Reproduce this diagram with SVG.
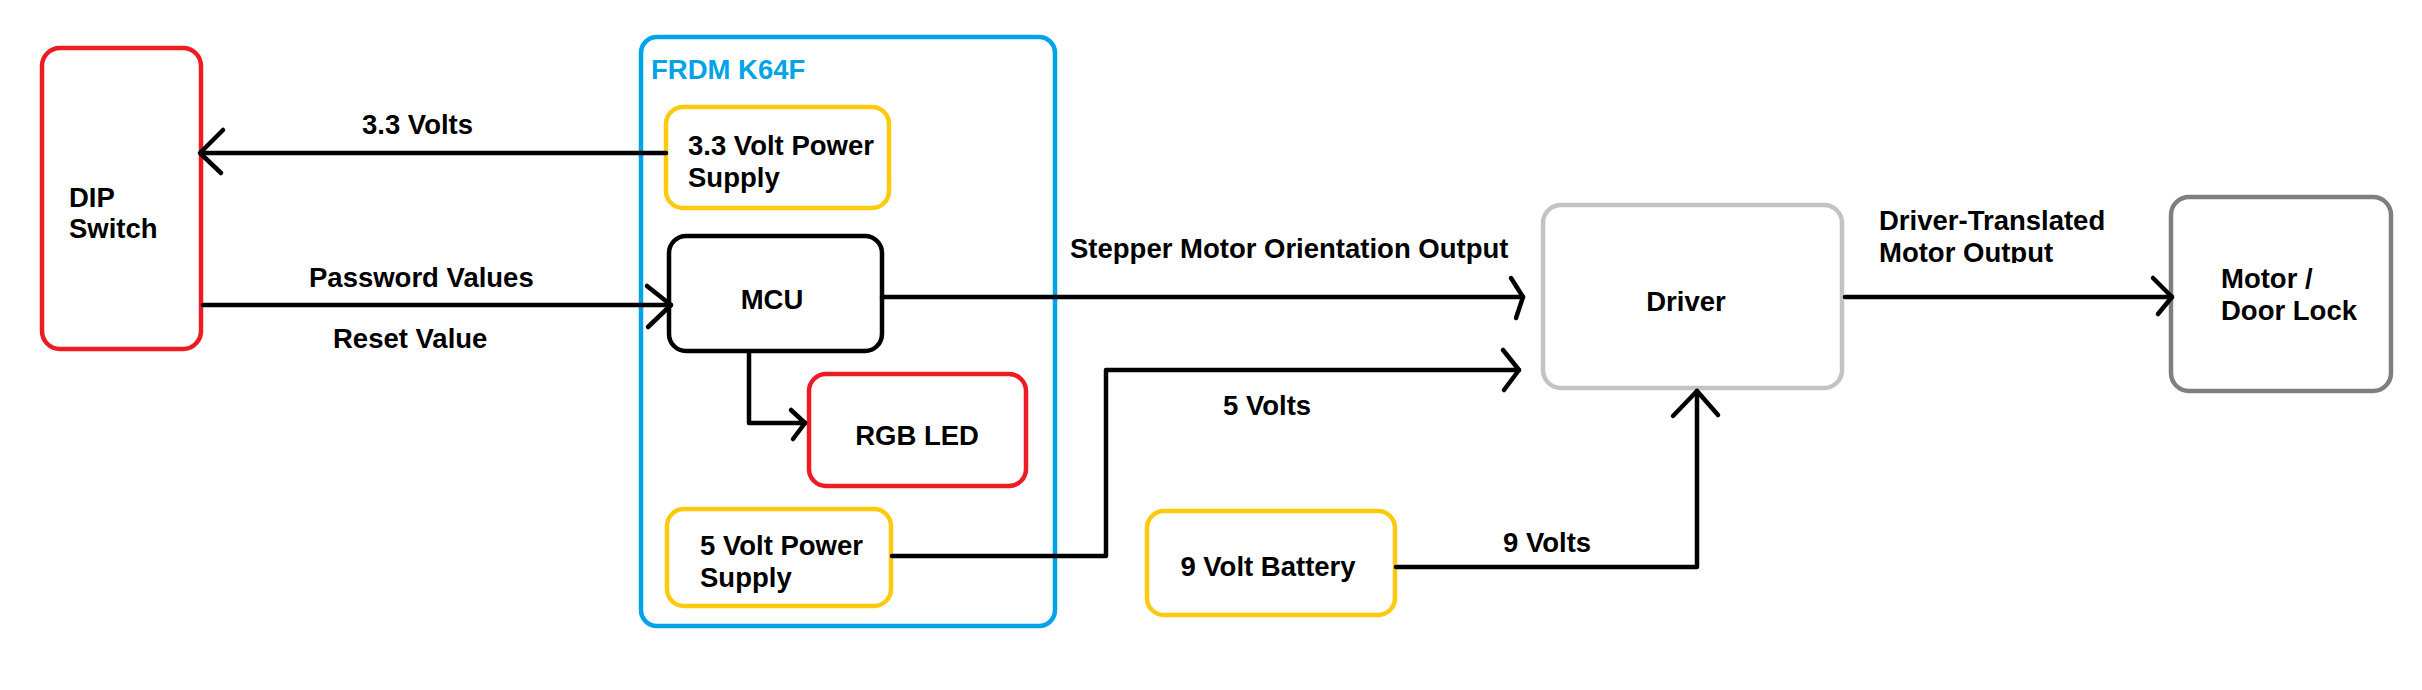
<svg xmlns="http://www.w3.org/2000/svg" width="2422" height="690" viewBox="0 0 2422 690">
<style>
.box{fill:#fff;stroke-width:4.5}
.red{stroke:#ED1C24}.blue{stroke:#00A2E8;fill:none}.yel{stroke:#FFC90E}.blk{stroke:#000}.lg{stroke:#C3C3C3}.dg{stroke:#7F7F7F}
text{font-family:"Liberation Sans",Arial,sans-serif;font-weight:bold;font-size:27.5px;fill:#000}
.ln{fill:none;stroke:#000;stroke-width:4.5;stroke-linecap:round;stroke-linejoin:round}
</style>
<defs>
<clipPath id="clipOut"><rect x="1850" y="180" width="300" height="83"/></clipPath>
</defs>
<rect width="2422" height="690" fill="#fff"/>
<g id="frdm">
<rect class="box blue" x="641" y="37" width="414" height="589" rx="16"/>
<text x="651" y="79" style="fill:#00A2E8">FRDM K64F</text>
</g>
<g id="dip">
<rect class="box red" x="42" y="48" width="159" height="301" rx="18"/>
<text x="69" y="207">DIP</text>
<text x="69" y="238">Switch</text>
</g>
<g id="ps33">
<rect class="box yel" x="666" y="107" width="223" height="101" rx="17"/>
<text x="688" y="155">3.3 Volt Power</text>
<text x="688" y="187">Supply</text>
</g>
<g id="mcu">
<rect class="box blk" x="669" y="236" width="213" height="115" rx="17"/>
<text x="772" y="309" text-anchor="middle">MCU</text>
</g>
<g id="rgb">
<rect class="box red" x="809" y="374" width="217" height="112" rx="17"/>
<text x="917" y="445" text-anchor="middle">RGB LED</text>
</g>
<g id="ps5">
<rect class="box yel" x="667" y="509" width="224" height="97" rx="17"/>
<text x="700" y="555">5 Volt Power</text>
<text x="700" y="587">Supply</text>
</g>
<g id="bat9">
<rect class="box yel" x="1147" y="511" width="248" height="104" rx="17"/>
<text x="1268" y="576" text-anchor="middle">9 Volt Battery</text>
</g>
<g id="driver">
<rect class="box lg" x="1543" y="205" width="299" height="183" rx="18"/>
<text x="1686" y="311" text-anchor="middle">Driver</text>
</g>
<g id="motor">
<rect class="box dg" x="2171" y="197" width="220" height="194" rx="18"/>
<text x="2221" y="288">Motor /</text>
<text x="2221" y="320">Door Lock</text>
</g>
<g id="connectors">
<path class="ln" d="M666,153 H201"/>
<path class="ln" d="M223,130 L200,153 L221,173"/>
<text x="362" y="134">3.3 Volts</text>
<path class="ln" d="M203,305 H671"/>
<path class="ln" d="M647,286 L671,305 L648,327"/>
<text x="309" y="287">Password Values</text>
<text x="333" y="348">Reset Value</text>
<path class="ln" d="M749,351 V423 H805"/>
<path class="ln" d="M791,410 L805,423 L793,439"/>
<path class="ln" d="M882,297 H1523"/>
<path class="ln" d="M1511,278 L1523,297 L1516,318"/>
<text x="1070" y="258">Stepper Motor Orientation Output</text>
<path class="ln" d="M892,556 H1106 V370 H1519"/>
<path class="ln" d="M1503,350 L1519,370 L1504,390"/>
<text x="1223" y="415">5 Volts</text>
<path class="ln" d="M1396,567 H1697 V391"/>
<path class="ln" d="M1673,416 L1697,391 L1718,415"/>
<text x="1503" y="552">9 Volts</text>
<path class="ln" d="M1845,297 H2172"/>
<path class="ln" d="M2153,278 L2172,297 L2158,314"/>
<text x="1879" y="230">Driver-Translated</text>
<text x="1879" y="262" clip-path="url(#clipOut)">Motor Output</text>
</g>
</svg>
